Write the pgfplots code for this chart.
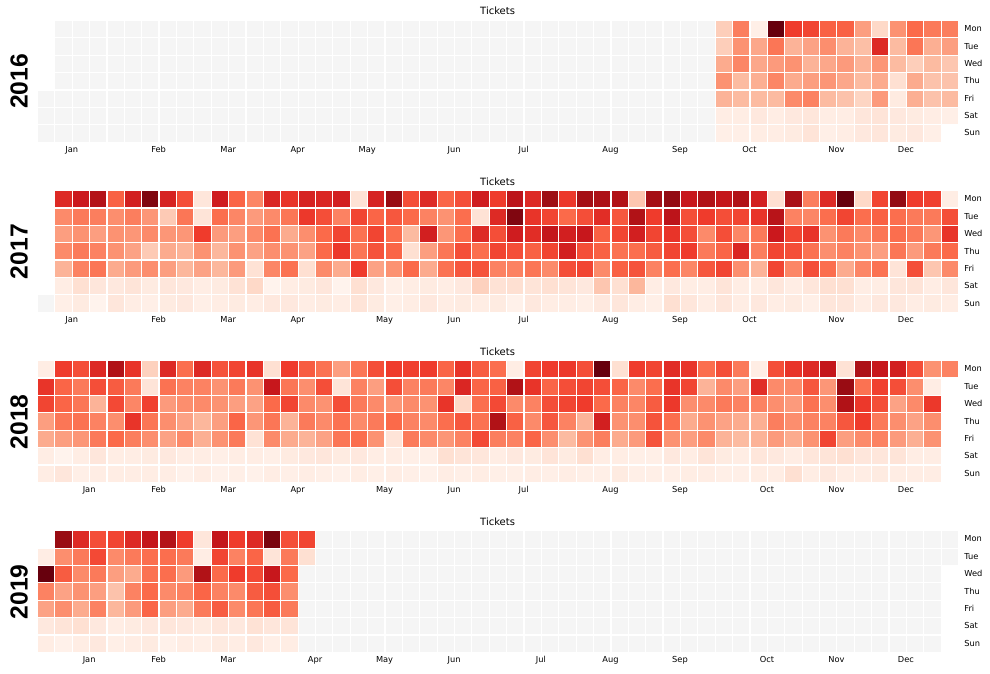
\documentclass[border=0pt]{standalone}
\usepackage{pgfplots}
\pgfplotsset{compat=1.18}
\usepackage{pgfplotstable}
\usepackage{fontspec}
\setmainfont{DejaVu Sans}
\newfontfamily\yearfont{Liberation Sans}

% values: -2 = no day (blank), -1 = day without data (grey), 0..8 = Reds scale
\pgfplotstableread[header=false]{
-2 -1 -1 -1 -1 -1 -1 -1 -1 -1 -1 -1 -1 -1 -1 -1 -1 -1 -1 -1 -1 -1 -1 -1 -1 -1 -1 -1 -1 -1 -1 -1 -1 -1 -1 -1 -1 -1 -1 1.5 3.5 0.3 8 5 4.8 4.2 4.2 2.7 1.2 3 4 3.6 3.5
-2 -1 -1 -1 -1 -1 -1 -1 -1 -1 -1 -1 -1 -1 -1 -1 -1 -1 -1 -1 -1 -1 -1 -1 -1 -1 -1 -1 -1 -1 -1 -1 -1 -1 -1 -1 -1 -1 -1 1.5 3 2.5 3.7 2.2 2.6 3.1 2.2 1.9 5.5 2 3.7 2.3 2.7
-2 -1 -1 -1 -1 -1 -1 -1 -1 -1 -1 -1 -1 -1 -1 -1 -1 -1 -1 -1 -1 -1 -1 -1 -1 -1 -1 -1 -1 -1 -1 -1 -1 -1 -1 -1 -1 -1 -1 2.4 3.3 2.5 2.8 3 2.2 2.5 2.8 2.2 2.9 2 1.5 2 1.7
-2 -1 -1 -1 -1 -1 -1 -1 -1 -1 -1 -1 -1 -1 -1 -1 -1 -1 -1 -1 -1 -1 -1 -1 -1 -1 -1 -1 -1 -1 -1 -1 -1 -1 -1 -1 -1 -1 -1 3 2 2.3 3.3 2.4 2.7 2.9 2.5 2 2.4 1 2.4 1.8 1.8
-1 -1 -1 -1 -1 -1 -1 -1 -1 -1 -1 -1 -1 -1 -1 -1 -1 -1 -1 -1 -1 -1 -1 -1 -1 -1 -1 -1 -1 -1 -1 -1 -1 -1 -1 -1 -1 -1 -1 2.2 2 2 2 3.2 3.4 2 1.8 1.3 2.8 0.5 2.3 1.8 2
-1 -1 -1 -1 -1 -1 -1 -1 -1 -1 -1 -1 -1 -1 -1 -1 -1 -1 -1 -1 -1 -1 -1 -1 -1 -1 -1 -1 -1 -1 -1 -1 -1 -1 -1 -1 -1 -1 -1 0.4 0.4 0.6 0.4 0.6 0.7 0.4 0.4 0.7 0.8 0.6 0.5 0.4 0.3
-1 -1 -1 -1 -1 -1 -1 -1 -1 -1 -1 -1 -1 -1 -1 -1 -1 -1 -1 -1 -1 -1 -1 -1 -1 -1 -1 -1 -1 -1 -1 -1 -1 -1 -1 -1 -1 -1 -1 0.3 0.3 0.4 0.4 0.5 0.8 0.3 0.4 0.6 0.7 0.5 0.6 0.3 -2
}\rawA
\pgfplotstableread[header=false]{
-2 5.5 6 6.6 4.2 5.8 7.6 5.7 4.6 0.7 5.9 4.1 3.3 5.6 5.2 5.7 5.6 5.8 0.9 5.7 7.2 4.6 5.5 4.1 4.6 5.9 5 6.4 5.5 7.1 5.1 7 6.8 6.7 1.7 7 7.3 6.1 6.7 6.2 6.7 5.8 1 6.9 3.5 5.5 8 1.2 4.8 7.3 5 4.9 0.4
-2 3.2 3.6 3.5 3.1 3.5 2.9 1.6 3.7 0.8 3.9 3.3 2.8 3.2 3.7 5.1 4.6 3.4 4.8 4.1 4.4 4 3.4 3 3.9 0.9 5.5 7.6 5.2 4.8 4 4.6 5.4 4.4 6.7 5 6.4 4.6 5 4.6 4.8 5.2 6.5 3.4 3.3 3.9 4.8 3.9 4.2 3.9 3.6 3.6 4.6
-2 2.7 3 2.7 3 2.9 3.2 2.9 2.9 5 2.8 2.7 3.2 3.8 2.4 3.1 4 4.8 3.8 4.8 3.9 2 5.8 2.9 3.9 5.5 4.6 5.9 5.4 6.2 5.8 6.1 4.2 4.8 5.8 4.8 5.2 4.6 3.2 4.6 3.3 3.6 6 4.8 5.2 3 3.6 3.2 3.7 3.9 3.6 2.9 5.2
-2 3.2 3.6 3.4 3 2.6 1.6 2.4 2.2 3 2.1 3 2.6 3.1 3 2.6 4 5.1 3.7 4.5 4.1 1 2.7 3.7 4.6 3.9 4.8 4.6 4.2 4.8 5.8 4.6 4.2 3.8 3.9 4.3 4.8 5 3.6 4.1 5.6 3.5 4.8 4.6 3.8 3.1 3.4 3 2.7 3.7 2.8 3.6 4
-2 2.2 3.4 3.7 2.4 2.8 3.1 2.7 2.1 2.6 2.1 2.8 0.9 3.3 3.8 1 3.2 2.4 5 2.6 3 4 2.4 3.8 4.4 4.5 3.4 3.4 3.7 3.2 4.6 4.8 3.2 4.2 4.5 3.4 3.9 3.3 4.4 4.8 3.1 2.2 4.8 3.3 4.6 3.9 2.4 3.3 3.8 0.8 4.6 1.7 3.2
-2 0.4 1 0.7 0.6 0.8 0.5 0.7 0.6 0.4 0.5 0.9 1.2 0.1 0.4 0.5 0.7 0.1 1 0.6 0.3 0.4 0.5 0.4 0.6 1.4 0.9 1 0.8 1 0.8 0.6 1.7 1 2.1 0.4 0.6 0.4 0.4 0.8 0.4 0.4 0.7 0.4 0.7 1 1 0.4 0.4 0.7 0.8 0.4 0.7
-1 0.3 0.5 0.1 0.7 0.4 0.3 0.5 0.6 0.3 0.4 0.5 0.4 0.6 0.6 0.4 0.5 0.4 0.8 0.5 0.3 0.4 0.6 0.4 0.5 0.4 0.5 0.2 0.6 0.4 0.4 0.3 0.6 0.7 0.4 0.3 1 0.7 0.4 0.7 0.4 0.6 0.4 0.5 0.3 0.7 0.7 0.4 0.6 0.6 0.4 0.5 0.4
}\rawB
\pgfplotstableread[header=false]{
0.4 5 4.6 5.5 6.7 5.2 1.4 5.5 3.9 5.5 4.5 4.8 5.2 1 5 4.3 3.8 2.7 3.7 4.6 5 4.9 5 4.1 5.2 4.3 3.9 0.4 4.8 5 5.1 4.6 8 1 5 4.8 5.4 5.2 3.9 4.6 3.6 0.4 4.6 5.2 5.5 6.2 0.9 6.8 6.1 5.8 4.6 3 3.4
5.2 4.1 3.6 4.6 4.3 3.6 0.8 3.8 3.4 3.4 3 3.6 3 6.1 3.7 3.1 4.6 0.8 3.4 2.7 4.6 3.4 3.6 3.3 5.6 4.1 4.2 6.7 5.2 4.1 4.6 4.8 4.6 4.1 3.2 3.9 5.2 4.8 2.2 3.2 2.7 5.4 3.2 3.2 4.4 2.9 7.2 3.8 4.9 4.6 3.1 0.4 -2
4.8 4.1 3.7 2.2 4.7 3.3 4.9 2.8 3.1 3.2 3 2.7 2.6 4 4.8 3.2 3 4.6 3.6 3.2 2.9 3.2 3 5.2 1.2 3.9 4.7 3.2 3.4 4.6 4.8 5 4 3.4 3.3 4.3 5.1 3.1 3.2 3.6 3.4 3.4 3.1 2.8 3.8 3.1 6.7 5.1 4.6 2.6 3.2 5.1 -2
2.7 3.7 3.8 3.4 3.1 5.2 3.7 3.1 2.6 2.1 2.7 4.1 2.9 3.7 2.2 3.6 3.2 3.8 3.2 3.6 4 3.4 3.2 3.9 4.4 3.8 6.7 4.2 3.2 4.4 3.4 2.2 5.8 3 3.1 4.5 3.9 2.4 3 2.6 2.4 2.3 3.5 3.1 3.4 3.4 4.4 5 3.6 3.1 2.6 3.1 -2
2.4 2.7 2.9 3.6 4 3.5 3.1 2.6 3.2 2.3 3 3.6 0.9 3.2 2.4 2.2 2.6 3.7 3.9 3 0.8 3.6 3.2 2.9 3.4 4.7 3.5 3.4 4.1 3.1 2 3 3.5 2.4 2.8 4.5 3 2.7 3.2 2.2 2 2.2 2.8 2.4 3 4.8 2.7 3.2 3.4 2.8 2.3 3 -2
0.4 0.1 0.4 0.7 0.4 0.4 0.5 0.6 0.4 0.4 0.3 0.4 0.4 0.3 0.5 0.6 0.7 0.5 0.6 0.4 0.4 0.3 0.3 1 0.8 0.7 0.4 0.6 0.5 0.8 0.5 1 0.4 0.4 0.3 0.3 0.6 0.4 0.8 0.5 0.4 0.7 0.6 0.4 0.7 0.8 1 0.7 0.7 0.8 0.4 0.4 -2
0.4 0.7 0.3 0.4 0.4 0.4 0.4 0.4 0.2 0.4 0.2 0.3 0.2 0.4 0.3 0.4 0.3 0.2 0.4 0.3 0.4 0.3 0.2 0.4 0.3 0.4 0.3 0.3 0.4 0.3 0.4 0.3 0.3 0.5 0.3 0.3 0.3 0.4 0.4 0.3 0.3 0.4 0.4 1 0.4 0.6 0.4 0.4 0.5 0.4 0.4 0.4 -2
}\rawC
\pgfplotstableread[header=false]{
-2 7.2 5.5 4.6 4.8 5.5 6.2 6.6 5 0.7 6.2 5 5.5 7.7 4.6 4.8 -1 -1 -1 -1 -1 -1 -1 -1 -1 -1 -1 -1 -1 -1 -1 -1 -1 -1 -1 -1 -1 -1 -1 -1 -1 -1 -1 -1 -1 -1 -1 -1 -1 -1 -1 -1 -1
0.4 3.1 3.6 4.7 3.2 3.6 3.9 3.9 3.6 0.4 4.8 3.4 4.1 0.8 3.6 1 -1 -1 -1 -1 -1 -1 -1 -1 -1 -1 -1 -1 -1 -1 -1 -1 -1 -1 -1 -1 -1 -1 -1 -1 -1 -1 -1 -1 -1 -1 -1 -1 -1 -1 -1 -1 -1
8 4.3 3.2 3.6 2.7 2.4 3.8 3.9 2.8 6.7 4 5 4.7 6.1 4 -1 -1 -1 -1 -1 -1 -1 -1 -1 -1 -1 -1 -1 -1 -1 -1 -1 -1 -1 -1 -1 -1 -1 -1 -1 -1 -1 -1 -1 -1 -1 -1 -1 -1 -1 -1 -1 -2
3.4 2.6 3 2.7 1.8 3.4 4 3.2 3.4 4.1 3.4 3.2 4.3 4.6 3.1 -1 -1 -1 -1 -1 -1 -1 -1 -1 -1 -1 -1 -1 -1 -1 -1 -1 -1 -1 -1 -1 -1 -1 -1 -1 -1 -1 -1 -1 -1 -1 -1 -1 -1 -1 -1 -1 -2
2.6 3.1 2.4 3.4 2.1 2.8 4.1 2.7 2.4 3.6 4.3 3.2 3.7 4.3 3.6 -1 -1 -1 -1 -1 -1 -1 -1 -1 -1 -1 -1 -1 -1 -1 -1 -1 -1 -1 -1 -1 -1 -1 -1 -1 -1 -1 -1 -1 -1 -1 -1 -1 -1 -1 -1 -1 -2
0.6 0.8 1 0.6 0.4 0.5 0.6 0.7 0.6 0.5 0.7 0.6 0.9 0.7 0.8 -1 -1 -1 -1 -1 -1 -1 -1 -1 -1 -1 -1 -1 -1 -1 -1 -1 -1 -1 -1 -1 -1 -1 -1 -1 -1 -1 -1 -1 -1 -1 -1 -1 -1 -1 -1 -1 -2
0.4 0.2 0.4 0.6 0.3 0.4 0.5 0.2 0.4 0.3 0.5 0.4 0.6 0.3 0.4 -1 -1 -1 -1 -1 -1 -1 -1 -1 -1 -1 -1 -1 -1 -1 -1 -1 -1 -1 -1 -1 -1 -1 -1 -1 -1 -1 -1 -1 -1 -1 -1 -1 -1 -1 -1 -1 -2
}\rawD
\pgfplotstabletranspose{\tabA}{\rawA}
\pgfplotstabletranspose{\tabB}{\rawB}
\pgfplotstabletranspose{\tabC}{\rawC}
\pgfplotstabletranspose{\tabD}{\rawD}

\pgfplotsset{
  colormap={calreds}{rgb255=(255,255,255) rgb255=(245,245,245) rgb255=(255,245,240) rgb255=(254,224,210) rgb255=(252,187,161) rgb255=(252,146,114) rgb255=(251,106,74) rgb255=(239,59,44) rgb255=(203,24,29) rgb255=(165,15,21) rgb255=(103,0,13)},
  calax/.style={
    scale only axis, width=690.8pt, height=91.25pt,
    xmin=-0.5, xmax=52.5, ymin=-0.5, ymax=6.5, y dir=reverse,
    axis line style={draw=none}, tick style={draw=none}, major tick length=0pt,
    ytick={0,...,6}, yticklabels={Mon,Tue,Wed,Thu,Fri,Sat,Sun},
    yticklabel pos=right,
    yticklabel style={xshift=1.2pt},
    tick label style={font=\fontsize{6.2}{7}\selectfont},
    colormap name=calreds, point meta min=-2, point meta max=8,
    clip=false, anchor=north west,
  },
  calcell/.style={scatter, only marks, mark=square*, mark size=5.7pt,
    mark options={line width=0.1pt},
    scatter/use mapped color={draw=mapped color, fill=mapped color},
    point meta=explicit},
}

\begin{document}
\begin{tikzpicture}
\useasboundingbox (0,0) rectangle (742.5pt,-505.5pt);

\begin{axis}[calax, at={(27.75pt,-15pt)},
  xtick={1.5,6.5,10.5,14.5,18.5,23.5,27.5,32.5,36.5,40.5,45.5,49.5},
  xticklabels={Jan,Feb,Mar,Apr,May,Jun,Jul,Aug,Sep,Oct,Nov,Dec}]
\pgfplotsinvokeforeach{1,...,7}{
  \addplot[calcell] table[x expr=\coordindex, y expr=#1-1, meta index=#1] {\tabA};
}
\end{axis}

\begin{axis}[calax, at={(27.75pt,-142.575pt)},
  xtick={1.5,6.5,10.5,14.5,19.5,23.5,27.5,32.5,36.5,40.5,45.5,49.5},
  xticklabels={Jan,Feb,Mar,Apr,May,Jun,Jul,Aug,Sep,Oct,Nov,Dec}]
\pgfplotsinvokeforeach{1,...,7}{
  \addplot[calcell] table[x expr=\coordindex, y expr=#1-1, meta index=#1] {\tabB};
}
\end{axis}

\begin{axis}[calax, at={(27.75pt,-270.15pt)},
  xtick={2.5,6.5,10.5,14.5,19.5,23.5,27.5,32.5,36.5,41.5,45.5,49.5},
  xticklabels={Jan,Feb,Mar,Apr,May,Jun,Jul,Aug,Sep,Oct,Nov,Dec}]
\pgfplotsinvokeforeach{1,...,7}{
  \addplot[calcell] table[x expr=\coordindex, y expr=#1-1, meta index=#1] {\tabC};
}
\end{axis}

\begin{axis}[calax, at={(27.75pt,-397.725pt)},
  xtick={2.5,6.5,10.5,15.5,19.5,23.5,28.5,32.5,36.5,41.5,45.5,49.5},
  xticklabels={Jan,Feb,Mar,Apr,May,Jun,Jul,Aug,Sep,Oct,Nov,Dec}]
\pgfplotsinvokeforeach{1,...,7}{
  \addplot[calcell] table[x expr=\coordindex, y expr=#1-1, meta index=#1] {\tabD};
}
\end{axis}

\foreach \yy/\tt/\ly in {-8.4/2016/-61.1, -135.98/2017/-188.7, -263.55/2018/-316.3, -391.13/2019/-443.85}{
  \node[font=\fontsize{7.5}{9}\selectfont, inner sep=0pt] at (373.2pt,\yy pt) {Tickets};
  \node[font=\yearfont\bfseries\fontsize{18.5}{20}\selectfont, rotate=90, inner sep=0pt] at (14.4pt,\ly pt) {\tt};
}
\end{tikzpicture}
\end{document}
